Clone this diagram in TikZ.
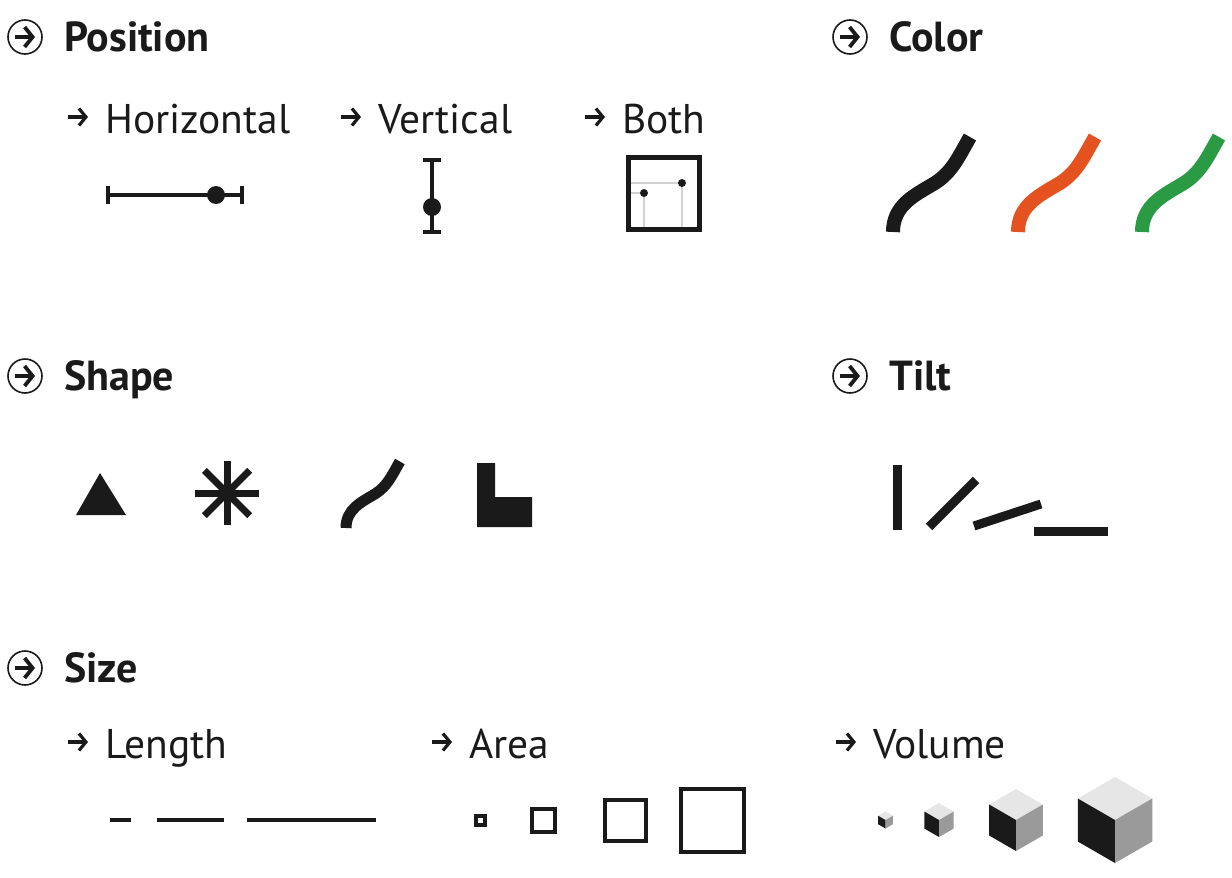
\documentclass[tikz,border=0pt]{standalone}
\usepackage{fontspec}
\setmainfont{PT Sans}
\usetikzlibrary{arrows.meta}
\definecolor{cink}{HTML}{1A1A1A}
\definecolor{corange}{HTML}{E4531F}
\definecolor{cgreen}{HTML}{2A9A45}
\definecolor{cfaint}{HTML}{D2D2D2}
\definecolor{ctop}{HTML}{E6E6E6}
\definecolor{cside}{HTML}{9A9A9A}

\tikzset{
  wiggle/.pic={
    \draw (0,0) .. controls (0,-27) and (22,-37) .. (42,-49)
                .. controls (59,-60) and (65,-74) .. (77,-95);
  }
}

\begin{document}
\begin{tikzpicture}[
  x=1pt, y=-1pt,
  head/.style={anchor=base west, inner sep=0pt, text=cink,
               font=\fontsize{42}{50}\selectfont\bfseries},
  sub/.style={anchor=base west, inner sep=0pt, text=cink,
              font=\fontsize{41.5}{50}\selectfont},
  ring/.style={draw=cink, line width=1.6pt, circle, minimum size=34pt, inner sep=0pt},
  pointer/.style={-{Straight Barb[length=8pt,width=20pt]}, draw=cink, line width=3.8pt},
  minipointer/.style={-{Straight Barb[length=7pt,width=17pt]}, draw=cink, line width=3.2pt},
  glyph/.style={draw=cink, line width=3.4pt},
  bar/.style={draw=cink, line width=9pt, line cap=butt}
]
\useasboundingbox (0,0) rectangle (1232,878);

% section headings
\node[ring] (posring)   at (25,37)  {};
\node[ring] (colring)   at (850,37) {};
\node[ring] (shapering) at (25,376) {};
\node[ring] (tiltring)  at (850,376) {};
\node[ring] (sizering)  at (25,668) {};
\foreach \r in {posring,colring,shapering,tiltring,sizering}
  \draw[pointer] ([xshift=-10pt]\r.center) -- ([xshift=10pt]\r.center);

\node[head] (position) at (64,51)  {Position};
\node[head] (color)    at (889,51) {Color};
\node[head] (shape)    at (64,390) {Shape};
\node[head] (tilt)     at (889,390) {Tilt};
\node[head] (size)     at (64,682) {Size};

% sub headings
\node[sub] (horiz)  at (105,133) {Horizontal};
\node[sub] (vert)   at (378,133) {Vertical};
\node[sub] (both)   at (622,133) {Both};
\node[sub] (length) at (105,758) {Length};
\node[sub] (area)   at (469,758) {Area};
\node[sub] (volume) at (873,758) {Volume};
\foreach \s in {horiz,vert,both,length,area,volume}
  \draw[minipointer] ([shift={(-37pt,16pt)}]\s.base west) -- ([shift={(-17pt,16pt)}]\s.base west);

% position
\draw[glyph] (108,195) -- (242,195);
\draw[glyph] (108,186) -- (108,204) (242,186) -- (242,204);
\fill[cink] (216,195) circle (9);
\draw[glyph] (432,160) -- (432,232);
\draw[glyph] (423,160) -- (441,160) (423,232) -- (441,232);
\fill[cink] (432,207) circle (9);
\draw[cfaint, line width=1.2pt] (630,183) -- (682,183) -- (682,228)
                                (630,193) -- (644,193) -- (644,228);
\draw[cink, line width=4.5pt] (628.5,157.5) rectangle (699.5,229.5);
\fill[cink] (644,193) circle (4) (682,183) circle (4);

% color
\foreach \dx/\col in {0/cink,125/corange,249/cgreen}
  \pic[color=\col, line width=14pt] at ({893+\dx},232) {wiggle};

% shape
\fill[cink] (100,473) -- (126,515) -- (76,515) -- cycle;
\foreach \ang in {0,45,90,135}
  \draw[cink, line width=7pt] (227,493) ++(\ang:32) -- ++(\ang+180:64);
\pic[color=cink, line width=11pt, scale=0.7] at (346,528) {wiggle};
\fill[cink] (477,463) -- (495,463) -- (495,497) -- (532,497) -- (532,527) -- (477,527) -- cycle;

% tilt
\draw[bar] (897,465) -- (897,530);
\draw[bar] (929,527) -- (976,480);
\draw[bar] (974,526) -- (1041,504);
\draw[bar] (1034,531) -- (1108,531);

% size
\draw[cink, line width=4pt] (110,820) -- (131,820) (157,820) -- (224,820) (247,820) -- (376,820);
\foreach \cx/\s in {480.5/9, 543.5/23, 625.5/41, 712/63}
  \draw[cink, line width=4pt] ({\cx-\s/2},{820-\s/2}) rectangle ++(\s,\s);
\foreach \cx/\a in {885.5/8.5, 939/17, 1016/31, 1115/43} {
  \fill[ctop] (\cx,{820-\a}) -- ++({0.866*\a},{\a/2}) -- (\cx,820) -- ++({-0.866*\a},{-\a/2}) -- cycle;
  \fill[cink] (\cx,820) -- ++({-0.866*\a},{-\a/2}) -- ++(0,\a) -- (\cx,{820+\a}) -- cycle;
  \fill[cside] (\cx,820) -- ++({0.866*\a},{-\a/2}) -- ++(0,\a) -- (\cx,{820+\a}) -- cycle;
}
\end{tikzpicture}
\end{document}
